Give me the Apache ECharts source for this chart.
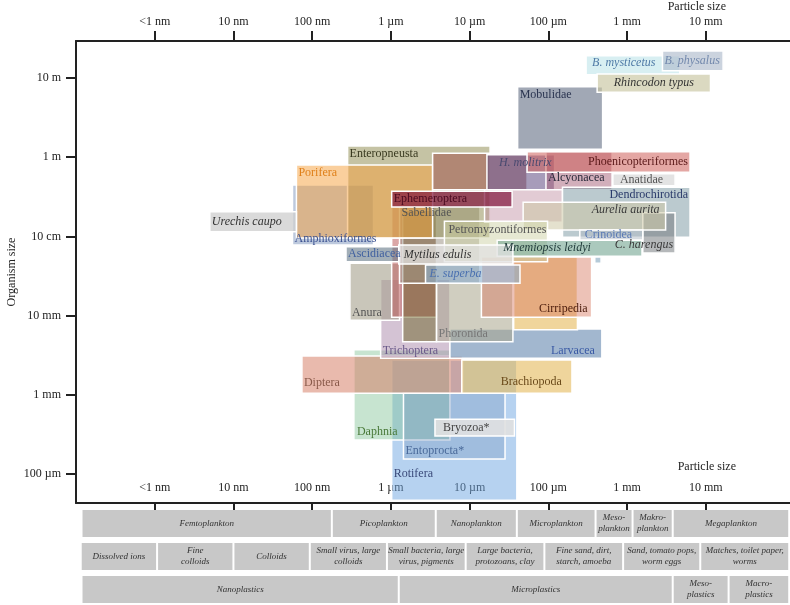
<!DOCTYPE html>
<html><head><meta charset="utf-8">
<script src="https://cdn.jsdelivr.net/npm/echarts@6/dist/echarts.min.js"></script>
<style>html,body{margin:0;padding:0;background:#fff}#c{width:790px;height:605px}</style>
</head><body><div id="c"></div>
<script>
const SERIF = '"Liberation Serif","Times New Roman","DejaVu Serif",serif';

// Axis ticks (log10 of size in metres)
const particleTickExp = [-9, -8, -7, -6, -5, -4, -3, -2];
const particleTickLabels = ['<1 nm', '10 nm', '100 nm', '1 µm', '10 µm', '100 µm', '1 mm', '10 mm'];
const organismTickExp = [-4, -3, -2, -1, 0, 1];
const organismTickLabels = ['100 µm', '1 mm', '10 mm', '10 cm', '1 m', '10 m'];

// Groups: particle-size range (x) and organism-size range (y), log10 metres
const groupNames = ['Rotifera','Daphnia','Entoprocta*','Diptera','Brachiopoda','Trichoptera','Larvacea','Anura','','','Phoronida','','Cirripedia','Sabellidae','Amphioxiformes','Enteropneusta','Porifera','','Urechis caupo','Ascidiacea','H. molitrix','Mobulidae','Alcyonacea','Phoenicopteriformes','Anatidae','','Dendrochirotida','C. harengus','Aurelia aurita','Crinoidea','Ephemeroptera','Petromyzontiformes','Mnemiopsis leidyi','Mytilus edulis','E. superba','Bryozoa*','B. mysticetus','Rhincodon typus','B. physalus',''];
const particleMinLog = [-5.99,-6.47,-5.84,-7.13,-5.10,-6.13,-5.25,-6.52,-5.99,-5.85,-5.42,-4.44,-4.85,-5.89,-7.25,-6.55,-7.20,-5.47,-8.30,-6.57,-4.78,-4.39,-4.03,-4.27,-3.18,-4.81,-3.82,-2.80,-4.32,-3.60,-5.99,-5.32,-4.65,-5.90,-5.56,-5.44,-3.52,-3.38,-2.55,-3.41];
const particleMaxLog = [-4.40,-5.25,-4.55,-5.09,-3.70,-5.25,-3.32,-5.89,-5.42,-5.42,-4.45,-3.63,-3.45,-4.87,-6.22,-4.74,-5.47,-4.27,-7.20,-5.89,-3.92,-3.31,-3.19,-2.20,-2.39,-3.82,-2.20,-2.39,-2.51,-2.80,-4.46,-4.01,-2.81,-4.45,-4.36,-4.43,-2.33,-1.94,-1.78,-3.33];
const organismMinLog = [-4.33,-3.57,-3.81,-2.98,-2.98,-2.54,-2.54,-2.06,-2.02,-2.33,-2.33,-2.18,-2.02,-1.59,-1.11,-1.02,-1.02,-0.41,-0.94,-1.32,-0.41,0.10,-0.41,-0.19,-0.36,-0.82,-1.01,-1.21,-0.92,-1.05,-0.63,-1.32,-1.25,-1.35,-1.59,-3.52,1.04,0.82,1.09,-1.34];
const organismMaxLog = [-2.56,-2.43,-2.98,-2.51,-2.56,-1.54,-2.17,-1.34,-0.63,-0.67,-1.59,-1.26,-1.26,-0.60,-0.35,0.14,-0.10,0.05,-0.69,-1.13,0.03,0.89,0.07,0.07,-0.21,-0.41,-0.38,-0.70,-0.57,-0.92,-0.43,-0.81,-1.05,-1.11,-1.36,-3.31,1.28,1.05,1.34,-1.26];

// Styles (fill per group, label placement/colour)
const boxFill = ['rgba(110,165,225,0.5)','rgba(130,195,150,0.45)','rgba(120,150,190,0.35)','rgba(215,130,105,0.55)','rgba(228,185,90,0.6)','rgba(170,135,170,0.5)','rgba(100,135,175,0.6)','rgba(165,160,140,0.6)','rgba(190,95,95,0.55)','rgba(110,100,40,0.5)','rgba(170,165,140,0.55)','rgba(230,185,90,0.6)','rgba(215,120,95,0.45)','rgba(150,140,125,0.5)','rgba(90,120,170,0.4)','rgba(150,145,90,0.55)','rgba(245,160,60,0.5)','rgba(165,95,85,0.6)','rgba(205,205,205,0.75)','rgba(100,120,135,0.6)','rgba(95,75,130,0.55)','rgba(110,122,142,0.65)','rgba(165,95,120,0.5)','rgba(205,95,90,0.55)','rgba(215,215,215,0.7)','rgba(190,140,160,0.45)','rgba(120,150,160,0.5)','rgba(120,125,130,0.55)','rgba(205,200,165,0.55)','rgba(175,185,195,0.5)','rgba(130,20,60,0.7)','rgba(205,210,165,0.5)','rgba(115,165,145,0.6)','rgba(225,225,225,0.75)','rgba(140,175,205,0.6)','rgba(225,225,225,0.9)','rgba(200,232,236,0.7)','rgba(200,196,160,0.65)','rgba(175,188,205,0.65)','rgba(150,180,200,0.7)'];
const labelStyle = {
  'Rotifera':{p:'lb',dy:-18,c:'#3a4a7a'}, 'Daphnia':{p:'lb',dx:1,c:'#4a7a3a'}, 'Entoprocta*':{p:'lb',c:'#4a6a9a'},
  'Diptera':{p:'lb',dy:-2,c:'#8a5a4a'}, 'Brachiopoda':{p:'rb',dx:-8,dy:-3,c:'#6a4a1a'}, 'Trichoptera':{p:'lb',c:'#6a5a8a'},
  'Larvacea':{p:'rb',dx:-5,c:'#3a5aa5'}, 'Anura':{p:'lb',c:'#555'}, 'Phoronida':{p:'lb',c:'#777'},
  'Cirripedia':{p:'rb',dx:-2,c:'#4a1a0a'}, 'Sabellidae':{p:'lt',c:'#555'}, 'Amphioxiformes':{p:'lb',dy:2,c:'#3a5090'},
  'Enteropneusta':{p:'lt',c:'#3a3a20'}, 'Porifera':{p:'lt',c:'#e0801a'}, 'Urechis caupo':{p:'lm',c:'#333',i:1},
  'Ascidiacea':{p:'lm',c:'#4060a0'}, 'H. molitrix':{p:'lt',dx:10,c:'#4a4a70',i:1}, 'Mobulidae':{p:'lt',c:'#2a3450'},
  'Alcyonacea':{p:'lb',dy:-4,c:'#2a2a3a'}, 'Phoenicopteriformes':{p:'rm',c:'#5a1818'}, 'Anatidae':{p:'lm',dx:5,c:'#555'},
  'Dendrochirotida':{p:'rt',c:'#2a3a6a'}, 'C. harengus':{p:'rb',c:'#3a3a3a',i:1}, 'Aurelia aurita':{p:'rt',dx:-4,c:'#3a3a3a',i:1},
  'Crinoidea':{p:'lm',dx:3,c:'#5a7ab5'}, 'Ephemeroptera':{p:'lm',c:'#4a0a20'}, 'Petromyzontiformes':{p:'lt',dx:2,c:'#555'},
  'Mnemiopsis leidyi':{p:'lm',dx:4,c:'#1e3838',i:1}, 'Mytilus edulis':{p:'lm',dx:3,c:'#333',i:1}, 'E. superba':{p:'lm',dx:2,c:'#4a70b0',i:1},
  'Bryozoa*':{p:'lm',dx:6,c:'#444'}, 'B. mysticetus':{p:'lm',dx:4,dy:-2,c:'#4f7aa6',i:1}, 'Rhincodon typus':{p:'cm',c:'#333',i:1},
  'B. physalus':{p:'lm',c:'#7389ad',i:1}
};

// Size-class table rows (log10 metres bounds)
const planktonNames = ['Femtoplankton','Picoplankton','Nanoplankton','Microplankton','Meso-\nplankton','Makro-\nplankton','Megaplankton'];
const planktonBounds = [-9.93,-6.75,-5.43,-4.40,-3.40,-2.93,-2.42,-0.94];
const particleNames = ['Dissolved ions','Fine\ncolloids','Colloids','Small virus, large\ncolloids','Small bacteria, large\nvirus, pigments','Large bacteria,\nprotozoans, clay','Fine sand, dirt,\nstarch, amoeba','Sand, tomato pops,\nworm eggs','Matches, toilet paper,\nworms'];
const particleBounds = [-9.94,-8.97,-8.00,-7.03,-6.05,-5.05,-4.05,-3.05,-2.07,-0.94];
const plasticNames = ['Nanoplastics','Microplastics','Meso-\nplastics','Macro-\nplastics'];
const plasticBounds = [-9.93,-5.90,-2.42,-1.71,-0.94];

const boxData = groupNames.map((n, i) => [particleMinLog[i], particleMaxLog[i], organismMinLog[i], organismMaxLog[i], i]);
const tableData = [];
[[planktonNames, planktonBounds], [particleNames, particleBounds], [plasticNames, plasticBounds]].forEach(([names, b], row) => {
  names.forEach((n, k) => tableData.push([row, b[k], b[k + 1], n]));
});

const fmt = (exps, labels) => v => { const k = exps.indexOf(Math.round(v)); return k >= 0 ? labels[k] : ''; };
const axisLineStyle = { color: '#222', width: 2 };

const chart = echarts.init(document.getElementById('c'), null, { renderer: 'canvas' });
chart.setOption({
  animation: false,
  grid: [
    { left: 76, right: 0, top: 41, bottom: 102, outerBoundsMode: 'none', containLabel: false },
    { left: 76, right: 0, top: 510, height: 99, outerBoundsMode: 'none', containLabel: false }
  ],
  xAxis: [
    { type: 'value', gridIndex: 0, position: 'top', min: -10, max: -0.93,
      axisLine: { onZero: false, lineStyle: axisLineStyle }, splitLine: { show: false },
      axisTick: { customValues: particleTickExp, length: 10, lineStyle: axisLineStyle },
      axisLabel: { customValues: particleTickExp, formatter: fmt(particleTickExp, particleTickLabels), margin: 13,
        fontFamily: SERIF, fontSize: 12, color: '#222' } },
    { type: 'value', gridIndex: 0, position: 'bottom', min: -10, max: -0.93,
      axisLine: { onZero: false, lineStyle: axisLineStyle }, splitLine: { show: false },
      axisTick: { customValues: particleTickExp, length: 9, lineStyle: axisLineStyle },
      axisLabel: { customValues: particleTickExp, formatter: fmt(particleTickExp, particleTickLabels), inside: true, margin: 9,
        fontFamily: SERIF, fontSize: 12, color: '#222' } },
    { type: 'value', gridIndex: 1, min: -10, max: -0.93, show: false }
  ],
  yAxis: [
    { type: 'value', gridIndex: 0, min: -4.366, max: 1.467,
      name: 'Organism size', nameLocation: 'middle', nameGap: 58, nameRotate: 90, nameMoveOverlap: false,
      nameTextStyle: { fontFamily: SERIF, fontSize: 12, color: '#222' },
      axisLine: { show: true, onZero: false, lineStyle: axisLineStyle }, splitLine: { show: false },
      axisTick: { show: true, customValues: organismTickExp, length: 10, lineStyle: axisLineStyle },
      axisLabel: { customValues: organismTickExp, formatter: fmt(organismTickExp, organismTickLabels), margin: 15,
        fontFamily: SERIF, fontSize: 12, color: '#222' } },
    { type: 'value', gridIndex: 1, min: 0, max: 3, inverse: true, show: false }
  ],
  graphic: [
    { type: 'text', right: 64, top: 1, style: { text: 'Particle size', font: '12px ' + SERIF, fill: '#222' } },
    { type: 'text', right: 54, top: 461, style: { text: 'Particle size', font: '12px ' + SERIF, fill: '#222' } }
  ],
  series: [
    { type: 'custom', xAxisIndex: 0, yAxisIndex: 0, data: boxData, encode: { x: [0, 1], y: [2, 3] }, silent: true,
      renderItem: (params, api) => {
        const i = api.value(4);
        const p1 = api.coord([api.value(0), api.value(3)]);
        const p2 = api.coord([api.value(1), api.value(2)]);
        return { type: 'rect', shape: { x: p1[0], y: p1[1], width: p2[0] - p1[0], height: p2[1] - p1[1] },
          style: { fill: boxFill[i], stroke: '#fff', lineWidth: 1.5 } };
      } },
    { type: 'custom', xAxisIndex: 0, yAxisIndex: 0, data: boxData, encode: { x: [0, 1], y: [2, 3] }, silent: true, z: 5,
      renderItem: (params, api) => {
        const i = api.value(4);
        const name = groupNames[i];
        if (!name) return null;
        const s = labelStyle[name] || { p: 'lt', c: '#333' };
        const p1 = api.coord([api.value(0), api.value(3)]);
        const p2 = api.coord([api.value(1), api.value(2)]);
        const h = s.p[0], v = s.p[1];
        let x = h === 'l' ? p1[0] + 2 : h === 'r' ? p2[0] - 2 : (p1[0] + p2[0]) / 2;
        let y = v === 't' ? p1[1] + 2 : v === 'b' ? p2[1] - 2 : (p1[1] + p2[1]) / 2;
        x += s.dx || 0; y += s.dy || 0;
        return { type: 'text', style: { text: name, x: x, y: y,
          align: h === 'l' ? 'left' : h === 'r' ? 'right' : 'center',
          verticalAlign: v === 't' ? 'top' : v === 'b' ? 'bottom' : 'middle',
          fill: s.c, font: (s.i ? 'italic ' : '') + '12px ' + SERIF } };
      } },
    { type: 'custom', xAxisIndex: 2, yAxisIndex: 1, data: tableData, encode: { x: [1, 2], y: 0 }, silent: true,
      renderItem: (params, api) => {
        const row = api.value(0);
        const p1 = api.coord([api.value(1), row]);
        const p2 = api.coord([api.value(2), row + 0.82]);
        const name = tableData[params.dataIndex][3];
        return { type: 'group', children: [
          { type: 'rect', shape: { x: p1[0] + 1, y: p1[1], width: p2[0] - p1[0] - 2, height: p2[1] - p1[1] },
            style: { fill: '#c8c8c8' } },
          { type: 'text', style: { text: name, x: (p1[0] + p2[0]) / 2, y: (p1[1] + p2[1]) / 2,
            align: 'center', verticalAlign: 'middle', fill: '#333', lineHeight: 11,
            font: 'italic 9px ' + SERIF } }
        ] };
      } }
  ]
});
</script></body></html>
